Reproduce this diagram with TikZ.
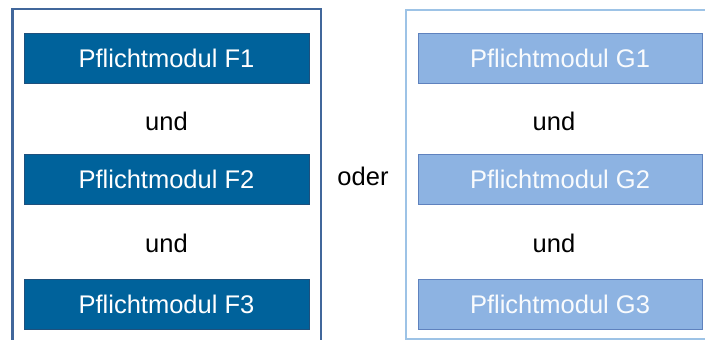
\documentclass[tikz,border=0pt]{standalone}
\usepackage{fontspec}
\setmainfont{Liberation Sans}
\usetikzlibrary{calc}

\definecolor{fblue}{RGB}{0,98,155}
\definecolor{fline}{RGB}{30,80,125}
\definecolor{gblue}{RGB}{141,179,226}
\definecolor{gline}{RGB}{95,130,190}
\definecolor{lframe}{RGB}{65,103,155}
\definecolor{rframe}{RGB}{157,195,230}

\tikzset{
 fmod/.style={draw=fline, fill=fblue, text=white, minimum width=285, minimum height=50, inner sep=0},
 gmod/.style={draw=gline, fill=gblue, text=white!95!gblue, minimum width=284, minimum height=50, inner sep=0},
 word/.style={anchor=base, inner sep=0}
}

\begin{document}
\begin{tikzpicture} [x=1pt, y=-1pt, font=\fontsize{25.5}{30}\selectfont]
\useasboundingbox (0,0) rectangle (705,340);
\clip (0,0) rectangle (705,340);
% frames
\draw[lframe, line width=2.5] (12.5,9) rectangle (321,360);
\draw[rframe, line width=2] (406,9.5) rectangle (720,339);
% modules
\foreach \n/\y in {1/58,2/179,3/304} {
 \node[fmod] (f\n) at (166.5,\y) {Pflichtmodul F\n};
 \node[gmod] (g\n) at (560,\y) {Pflichtmodul G\n};
}
\foreach \n/\y in {1/130,2/252} {
 \node[word] (fu\n) at (166.5,\y) {und};
 \node[word] (gu\n) at (554,\y) {und};
}
\node[word] (oder) at (363,185) {oder};
\end{tikzpicture}
\end{document}
